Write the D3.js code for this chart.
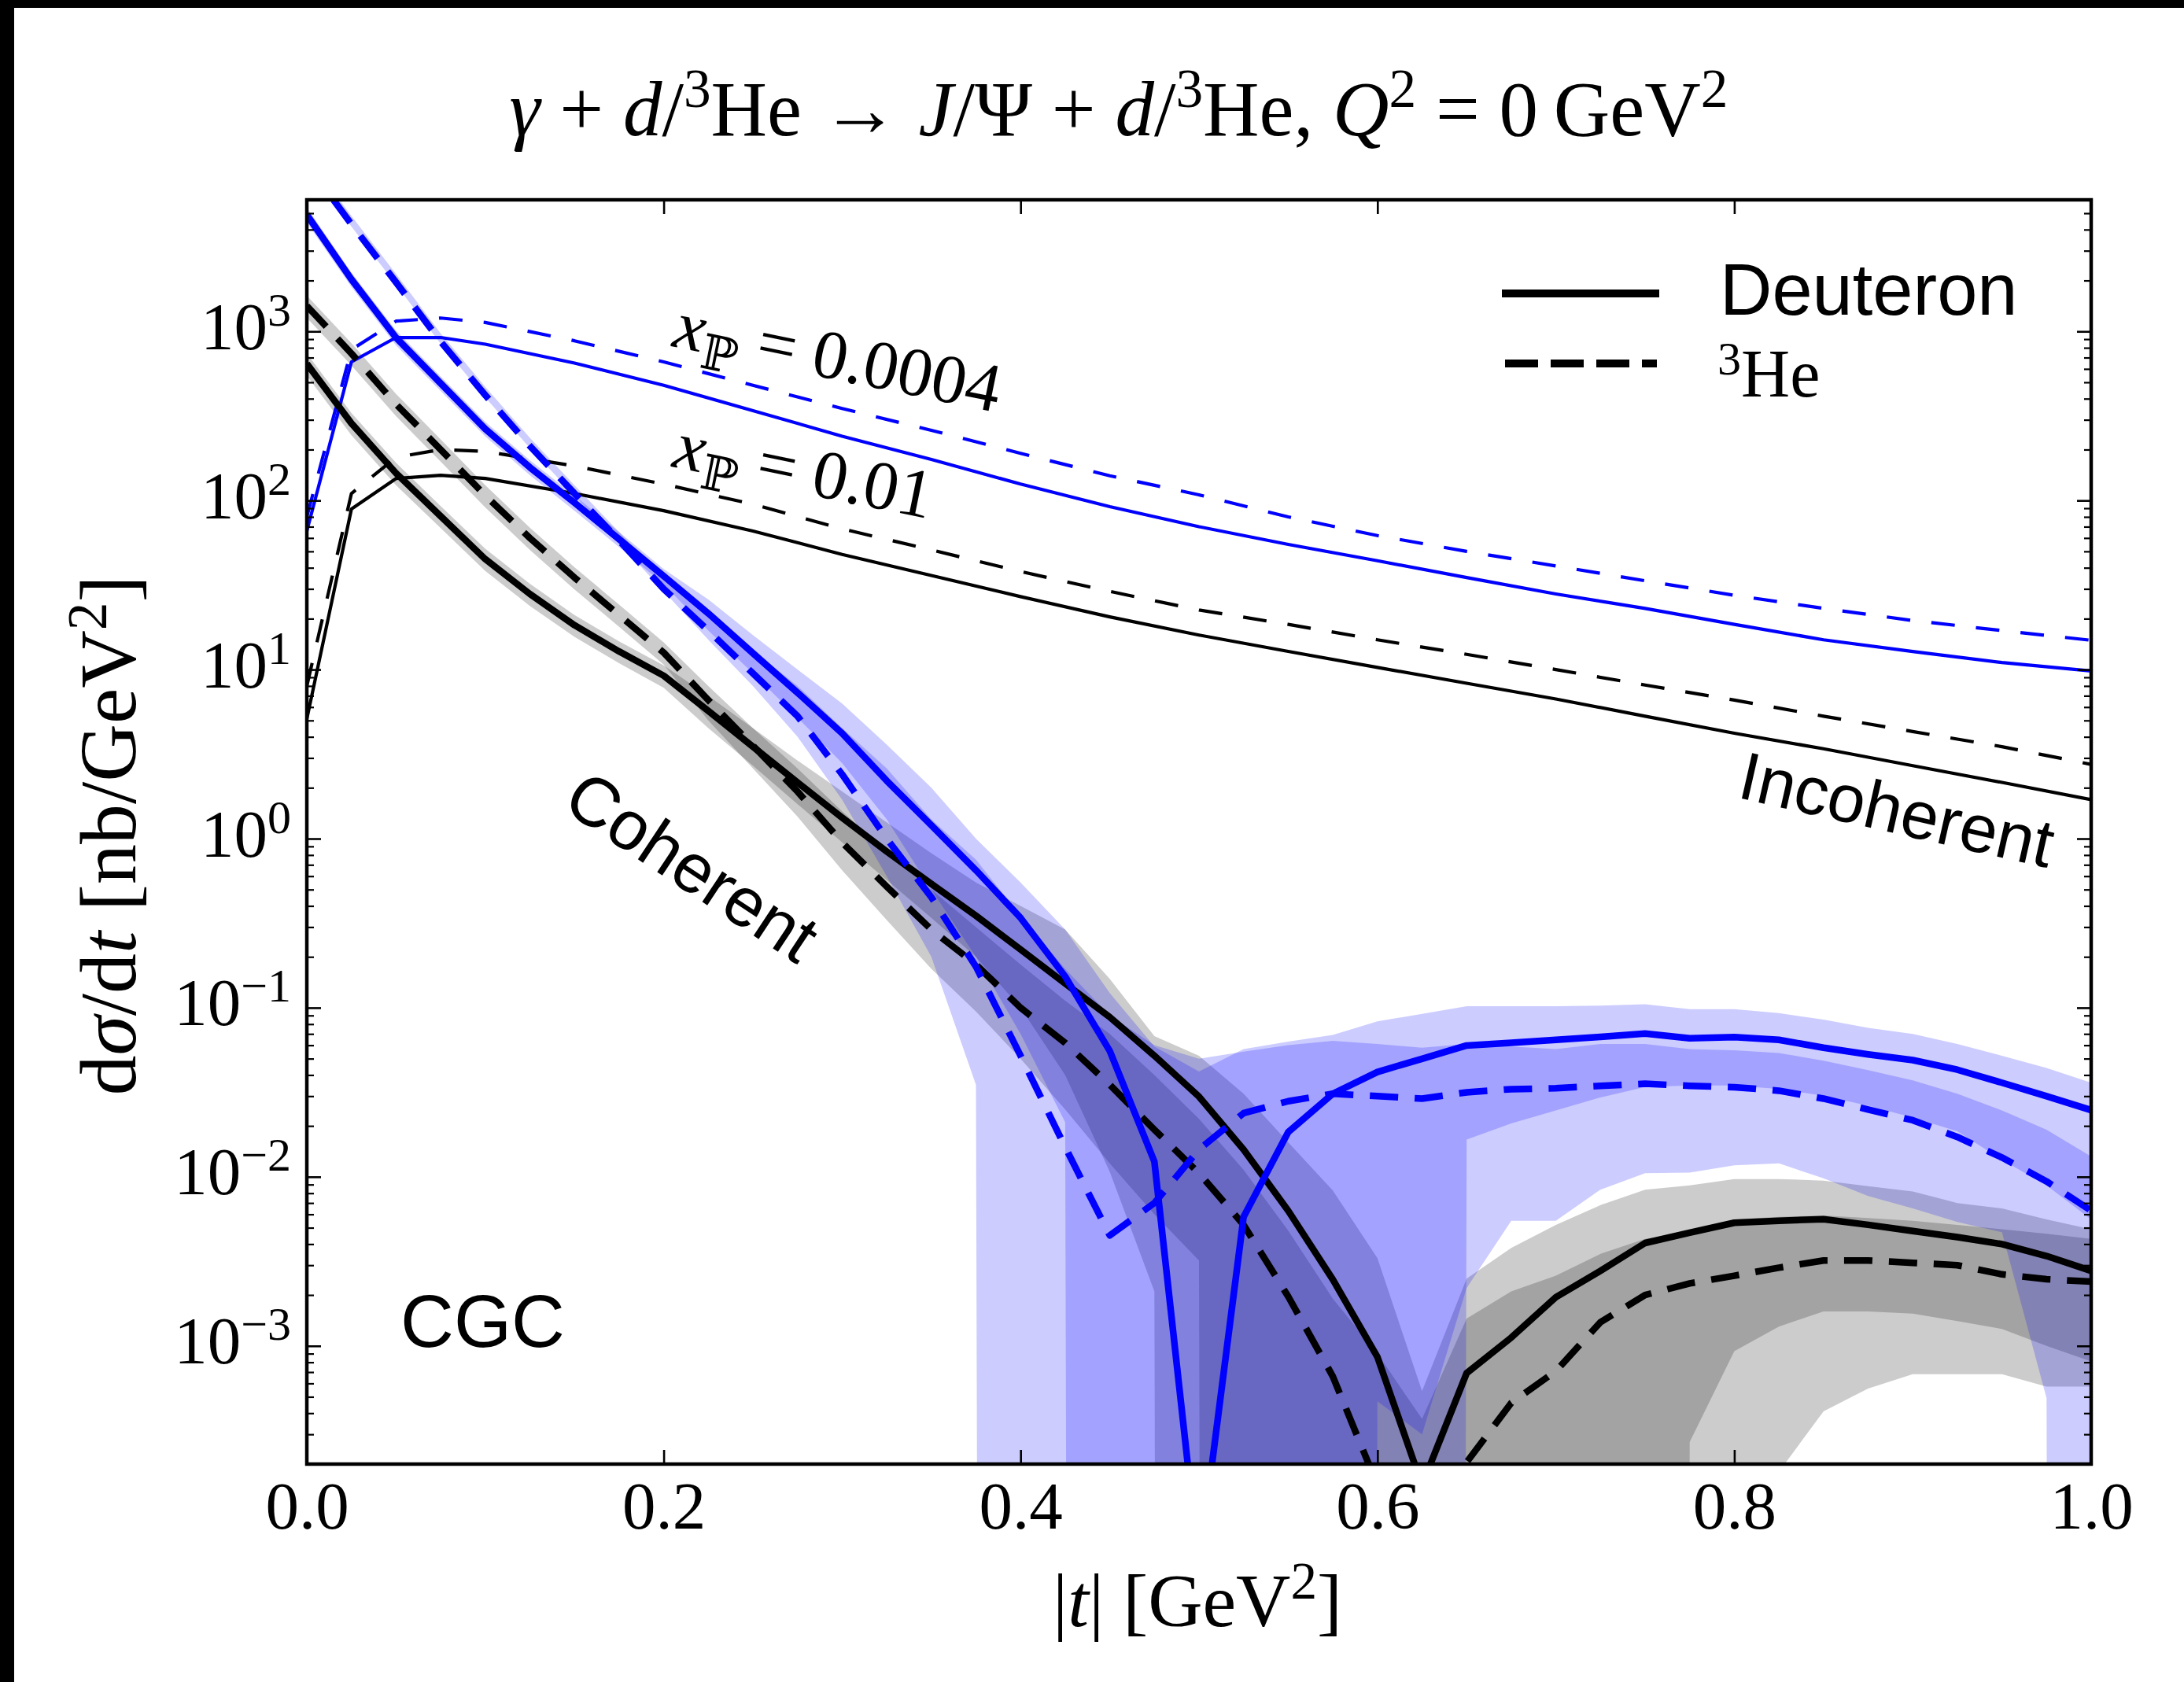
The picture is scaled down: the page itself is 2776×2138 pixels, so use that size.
<!DOCTYPE html>
<html>
<head>
<meta charset="utf-8">
<title>Coherent and incoherent J/Psi photoproduction off d and 3He</title>
<script src="https://cdn.jsdelivr.net/npm/d3@7"></script>
<style>
  html, body { margin: 0; padding: 0; background: #fff; }
  svg { display: block; }
  text { white-space: pre; }
</style>
</head>
<body>
<svg id="fig" width="2776" height="2138"></svg>
<script>
// ---------------- data ----------------
// |t| grid of the coherent calculation [GeV^2]
const tCoh = [0, 0.025, 0.05, 0.075, 0.1, 0.125, 0.15, 0.175, 0.2, 0.225, 0.25, 0.275, 0.3, 0.325, 0.35,
  0.375, 0.4, 0.425, 0.45, 0.475, 0.5, 0.525, 0.55, 0.575, 0.6, 0.625, 0.65, 0.675, 0.7, 0.725, 0.75,
  0.775, 0.8, 0.825, 0.85, 0.875, 0.9, 0.925, 0.95, 0.975, 1.0];
// |t| grid of the incoherent calculation [GeV^2]
const tInc = [0, 0.025, 0.05, 0.075, 0.1, 0.15, 0.2, 0.25, 0.3, 0.35, 0.4, 0.45, 0.5, 0.55, 0.6, 0.65,
  0.7, 0.75, 0.8, 0.85, 0.9, 0.95, 1.0];

// coherent dsigma/dt [nb/GeV^2], x_P = 0.0004 (blue)
const cohDeutLowX = [4900, 2030, 918, 493, 265, 157, 97, 59, 35.7, 21.5, 12.5, 7.3, 4.2, 2.2, 1.2, 0.65,
  0.34, 0.153, 0.0555, 0.0123, 0.00005, 0.0058, 0.0184, 0.031, 0.0417, 0.0499, 0.0598, 0.062, 0.0646,
  0.0673, 0.0703, 0.066, 0.067, 0.0646, 0.058, 0.053, 0.049, 0.043, 0.036, 0.030, 0.0248];
const cohHeLowX = [9800, 4300, 1950, 870, 420, 210, 110, 58, 30, 17, 9.5, 5.3, 2.4, 1.0, 0.45, 0.175,
  0.052, 0.015, 0.0045, 0.007, 0.0145, 0.0238, 0.028, 0.031, 0.030, 0.029, 0.0316, 0.033, 0.0334,
  0.0345, 0.0355, 0.0345, 0.0339, 0.0323, 0.029, 0.025, 0.0216, 0.0172, 0.013, 0.0094, 0.0063];
// coherent dsigma/dt [nb/GeV^2], x_P = 0.01 (black)
const cohDeutHighX = [644, 286, 145, 80.7, 45, 28, 18.3, 12.8, 9.2, 5.7, 3.5, 2.15, 1.33, 0.84, 0.54,
  0.35, 0.221, 0.139, 0.088, 0.052, 0.0298, 0.0145, 0.0063, 0.00247, 0.00086, 0.00015, 0.00069, 0.00112,
  0.00194, 0.00278, 0.00406, 0.00467, 0.00535, 0.0055, 0.00561, 0.0052, 0.00478, 0.0044, 0.0040,
  0.0034, 0.00278];
const cohHeHighX = [1415, 740, 371, 200, 107, 60, 35, 21, 12.6, 6.6, 3.55, 1.9, 0.95, 0.52, 0.29, 0.18,
  0.1, 0.062, 0.035, 0.019, 0.0105, 0.0052, 0.00196, 0.00066, 0.00015, 0.00003, 0.000205, 0.00046,
  0.00071, 0.00138, 0.002, 0.00234, 0.0026, 0.0029, 0.0032, 0.0032, 0.0031, 0.003, 0.00265, 0.00248,
  0.0024];

// uncertainty bands of the coherent cross sections (0 = lower edge not positive)
const bandDeutLowXHi = [5400, 2230, 1010, 542, 292, 173, 107, 65, 39.3, 26, 16, 10, 6.3, 3.6, 2.0, 1.0,
  0.55, 0.29, 0.122, 0.059, 0.042, 0.057, 0.063, 0.069, 0.083, 0.092, 0.102, 0.102, 0.102, 0.103, 0.105,
  0.098, 0.098, 0.093, 0.085, 0.076, 0.070, 0.061, 0.052, 0.044, 0.036];
const bandDeutLowXLo = [4410, 1830, 826, 444, 239, 141, 87, 53, 32, 17, 9.5, 5.2, 2.8, 1.3, 0.5, 0.2,
  0.07, 0.021, 0, 0, 0, 0, 0, 0, 0, 0, 0.0166, 0.0207, 0.0247, 0.0295, 0.034, 0.0347, 0.0347, 0.0331,
  0.0302, 0.0263, 0.0224, 0.0186, 0.0126, 0.0089, 0.0056];
const bandHeLowXHi = [10976, 4816, 2184, 974, 470, 235, 123, 65, 33.6, 21, 13, 8, 4.5, 2.6, 1.3, 0.75,
  0.35, 0.17, 0.09, 0.06, 0.05, 0.055, 0.06, 0.0637, 0.061, 0.058, 0.061, 0.059, 0.057, 0.061, 0.061,
  0.057, 0.056, 0.054, 0.0486, 0.0427, 0.0372, 0.031, 0.0247, 0.019, 0.0132];
const bandHeLowXLo = [9506, 4171, 1892, 844, 407, 204, 107, 56, 29.1, 15, 8, 4, 1.7, 0.6, 0.2, 0.035,
  0, 0, 0, 0, 0, 0, 0, 0, 0.00047, 0.0003, 0.0022, 0.0055, 0.0055, 0.0084, 0.0105, 0.0106, 0.0117,
  0.012, 0.0098, 0.0077, 0.0065, 0.0054, 0.0047, 0.00049, 0];
const bandDeutHighXHi = [741, 329, 167, 92.8, 51.8, 32.2, 21, 14.7, 10.6, 7, 4.5, 2.9, 1.9, 1.25, 0.82,
  0.55, 0.4, 0.29, 0.148, 0.068, 0.052, 0.031, 0.016, 0.0083, 0.0033, 0.00054, 0.0025, 0.0038, 0.0052,
  0.0068, 0.0084, 0.0089, 0.0097, 0.0097, 0.0095, 0.0088, 0.0082, 0.007, 0.0065, 0.0056, 0.0049];
const bandDeutHighXLo = [547, 243, 123, 68.6, 38.3, 23.8, 15.6, 10.9, 7.8, 4.5, 2.7, 1.6, 0.95, 0.57,
  0.34, 0.2, 0.1, 0.04, 0.0107, 0.0021, 0, 0, 0, 0, 0, 0, 0, 0, 0, 0, 0, 0.00027, 0.00093, 0.0013,
  0.0016, 0.0016, 0.00155, 0.0014, 0.00126, 0.001, 0.00081];
const bandHeHighXHi = [1627, 851, 427, 230, 123, 69, 40.3, 24.2, 14.5, 8, 4.5, 2.6, 1.45, 0.85, 0.5,
  0.3, 0.18, 0.11, 0.07, 0.04, 0.022, 0.011, 0.0048, 0.0019, 0.0009, 0.00037, 0.00145, 0.0021, 0.0026,
  0.0035, 0.0043, 0.0047, 0.0056, 0.0058, 0.0059, 0.0057, 0.0055, 0.0052, 0.0049, 0.0046, 0.0043];
const bandHeHighXLo = [1203, 629, 315, 170, 91, 51, 29.8, 17.9, 10.7, 5, 2.6, 1.35, 0.65, 0.33, 0.17,
  0.095, 0.05, 0.025, 0.012, 0.006, 0.0032, 0, 0, 0, 0, 0, 0, 0, 0, 0, 0, 0, 0, 0.00018, 0.00041,
  0.00056, 0.00068, 0.00068, 0.00068, 0.000575, 0.000575];

// incoherent dsigma/dt [nb/GeV^2]
const incDeutLowX = [66, 660, 920, 920, 840, 650, 480, 340, 240, 175, 125, 92, 70, 55, 44, 35, 28, 23,
  18.5, 15, 12.8, 11, 9.8];
const incHeLowX = [80, 780, 1150, 1200, 1130, 880, 660, 480, 350, 260, 190, 140, 108, 80, 62, 50, 41,
  33.5, 27.5, 23, 19.5, 17, 14.9];
const incDeutHighX = [5.1, 89, 135, 141, 135, 110, 87, 66, 48, 36, 27, 20.5, 16, 12.8, 10.3, 8.3, 6.7,
  5.3, 4.2, 3.4, 2.7, 2.15, 1.7];
const incHeHighX = [8, 110, 180, 200, 195, 160, 125, 95, 68, 51, 38, 29, 22.5, 18.5, 15, 12.3, 10, 8.1,
  6.6, 5.3, 4.3, 3.5, 2.75];

// axes
const tDomain = [0, 1];
const yDomain = [2e-4, 6e3];
const xTickValues = [0, 0.2, 0.4, 0.6, 0.8, 1.0];
const yMajorTicks = [1e-3, 1e-2, 1e-1, 1, 10, 100, 1000];

// ---------------- drawing ----------------
const SERIF = '"Liberation Serif", "DejaVu Serif", serif';
const SANS = '"Liberation Sans", Arial, "DejaVu Sans", sans-serif';
const W = 2776, H = 2138;
const box = { left: 390, right: 2658, top: 254, bottom: 1861 };

const svg = d3.select("#fig");
svg.append("rect").attr("width", W).attr("height", H).attr("fill", "#fff");
svg.append("rect").attr("x", 0).attr("y", 0).attr("width", W).attr("height", 10).attr("fill", "#000");
svg.append("rect").attr("x", 0).attr("y", 0).attr("width", 18).attr("height", H).attr("fill", "#000");

const x = d3.scaleLinear().domain(tDomain).range([box.left, box.right]);
const y = d3.scaleLog().domain(yDomain).range([box.bottom, box.top]);

svg.append("defs").append("clipPath").attr("id", "plotArea")
  .append("rect").attr("x", box.left).attr("y", box.top)
  .attr("width", box.right - box.left).attr("height", box.bottom - box.top);

const g = svg.append("g").attr("clip-path", "url(#plotArea)");

// non-positive band edges run off the bottom of the log axis
const pos = v => (v > 0 ? v : 1e-100);
const area = d3.area().x(d => x(d.t)).y0(d => y(pos(d.lo))).y1(d => y(pos(d.hi)));
const zipBand = (lo, hi) => tCoh.map((t, i) => ({ t, lo: lo[i], hi: hi[i] }));

const bands = [
  { lo: bandDeutHighXLo, hi: bandDeutHighXHi, color: "#000000" },
  { lo: bandHeHighXLo, hi: bandHeHighXHi, color: "#000000" },
  { lo: bandDeutLowXLo, hi: bandDeutLowXHi, color: "#0000ff" },
  { lo: bandHeLowXLo, hi: bandHeLowXHi, color: "#0000ff" }
];
bands.forEach(b => {
  g.append("path").attr("d", area(zipBand(b.lo, b.hi)))
    .attr("fill", b.color).attr("fill-opacity", 0.2).attr("stroke", "none");
});

const line = d3.line().x(d => x(d.t)).y(d => y(d.v));
const zip = (ts, vs) => ts.map((t, i) => ({ t, v: vs[i] }));

const curves = [
  { t: tInc, v: incDeutHighX, color: "#000", w: 4.2, dash: null },
  { t: tInc, v: incHeHighX, color: "#000", w: 4.2, dash: "30,27" },
  { t: tInc, v: incDeutLowX, color: "#0000ff", w: 4.2, dash: null },
  { t: tInc, v: incHeLowX, color: "#0000ff", w: 4.2, dash: "30,27" },
  { t: tCoh, v: cohDeutHighX, color: "#000", w: 8.5, dash: null },
  { t: tCoh, v: cohHeHighX, color: "#000", w: 8.5, dash: "36,21" },
  { t: tCoh, v: cohDeutLowX, color: "#0000ff", w: 8.5, dash: null },
  { t: tCoh, v: cohHeLowX, color: "#0000ff", w: 8.5, dash: "36,21" }
];
curves.forEach(c => {
  g.append("path").attr("d", line(zip(c.t, c.v)))
    .attr("fill", "none").attr("stroke", c.color).attr("stroke-width", c.w)
    .attr("stroke-dasharray", c.dash).attr("stroke-linejoin", "round");
});

// ---------------- axes ----------------
const allLogTicks = y.ticks();
const yMinorTicks = allLogTicks.filter(v => !yMajorTicks.some(m => Math.abs(m - v) / m < 1e-6));

function styleTicks(sel, w) {
  sel.select(".domain").remove();
  sel.selectAll(".tick line").attr("stroke", "#000").attr("stroke-width", w);
}

const gx = svg.append("g").attr("transform", `translate(0,${box.bottom})`)
  .call(d3.axisBottom(x).tickValues(xTickValues).tickSize(-18).tickFormat(d3.format(".1f")));
styleTicks(gx, 2.6);
gx.selectAll(".tick text").attr("y", 82).attr("dy", null)
  .attr("font-family", SERIF).attr("font-size", 85).attr("fill", "#000");

const gxTop = svg.append("g").attr("transform", `translate(0,${box.top})`)
  .call(d3.axisTop(x).tickValues(xTickValues).tickSize(-18).tickFormat(""));
styleTicks(gxTop, 2.6);

const gy = svg.append("g").attr("transform", `translate(${box.left},0)`)
  .call(d3.axisLeft(y).tickValues(yMajorTicks).tickSize(-18).tickPadding(20));
styleTicks(gy, 2.6);
gy.selectAll(".tick text").each(function (d) {
  const p = Math.round(Math.log10(d));
  const t = d3.select(this).text(null).attr("dy", null).attr("y", 22)
    .attr("font-family", SERIF).attr("font-size", 85).attr("fill", "#000");
  t.append("tspan").text("10");
  t.append("tspan").attr("dy", -30).attr("font-size", 60).text(p < 0 ? "\u2212" + (-p) : String(p));
});
const gyMinor = svg.append("g").attr("transform", `translate(${box.left},0)`)
  .call(d3.axisLeft(y).tickValues(yMinorTicks).tickSize(-9).tickFormat(""));
styleTicks(gyMinor, 2.2);

const gyR = svg.append("g").attr("transform", `translate(${box.right},0)`)
  .call(d3.axisRight(y).tickValues(yMajorTicks).tickSize(-18).tickFormat(""));
styleTicks(gyR, 2.6);
const gyRMinor = svg.append("g").attr("transform", `translate(${box.right},0)`)
  .call(d3.axisRight(y).tickValues(yMinorTicks).tickSize(-9).tickFormat(""));
styleTicks(gyRMinor, 2.2);

svg.append("rect").attr("x", box.left).attr("y", box.top)
  .attr("width", box.right - box.left).attr("height", box.bottom - box.top)
  .attr("fill", "none").attr("stroke", "#000").attr("stroke-width", 4.5);

// ---------------- text ----------------
function rich(textSel, parts, fs, rise) {
  const up = rise === undefined ? 0.36 : rise;
  let cur = 0;
  parts.forEach(p => {
    const shift = p.sup ? -up * fs : (p.sub ? 0.22 * fs : 0);
    const ts = textSel.append("tspan").text(p.s).attr("dy", shift - cur);
    cur = shift;
    if (p.sup || p.sub) ts.attr("font-size", 0.7 * fs);
    if (p.it) ts.attr("font-style", "italic");
  });
  return textSel;
}

function serifText(xp, yp, fs, anchor) {
  return svg.append("text").attr("x", xp).attr("y", yp).attr("font-family", SERIF)
    .attr("font-size", fs).attr("text-anchor", anchor).attr("fill", "#000");
}

// title
rich(serifText(1422, 172, 99, "middle"), [
  { s: "\u03b3", it: true }, { s: " + " }, { s: "d", it: true }, { s: "/" }, { s: "3", sup: true },
  { s: "He \u2192 " }, { s: "J", it: true }, { s: "/\u03a8 + " }, { s: "d", it: true }, { s: "/" },
  { s: "3", sup: true }, { s: "He, " }, { s: "Q", it: true }, { s: "2", sup: true },
  { s: " = 0\u2009GeV" }, { s: "2", sup: true }
], 99);

// x label
rich(serifText(1522, 2067, 96, "middle"), [
  { s: "|" }, { s: "t", it: true }, { s: "| [GeV" }, { s: "2", sup: true }, { s: "]" }
], 96);

// y label
rich(serifText(0, 0, 102, "middle").attr("transform", "translate(172,1062) rotate(-90)"), [
  { s: "d" }, { s: "\u03c3", it: true }, { s: "/d" }, { s: "t", it: true }, { s: " [nb/GeV" },
  { s: "2", sup: true }, { s: "]" }
], 102);

// legend
svg.append("line").attr("x1", 1909).attr("x2", 2109).attr("y1", 373).attr("y2", 373)
  .attr("stroke", "#000").attr("stroke-width", 10);
svg.append("line").attr("x1", 1913).attr("x2", 2106).attr("y1", 462).attr("y2", 462)
  .attr("stroke", "#000").attr("stroke-width", 10).attr("stroke-dasharray", "42,16");
svg.append("text").attr("x", 2186).attr("y", 400).attr("font-family", SANS).attr("font-size", 92)
  .attr("fill", "#000").text("Deuteron");
rich(serifText(2183, 504, 86, "start"), [{ s: "3", sup: true }, { s: "He" }], 86, 0.33);

// x_P annotations
rich(serifText(0, 0, 88, "start").attr("transform", "translate(853,440) rotate(11.5)"), [
  { s: "x", it: true }, { s: "\u2119", sub: true }, { s: " = 0.0004" }
], 88);
rich(serifText(0, 0, 88, "start").attr("transform", "translate(853,593) rotate(11.5)"), [
  { s: "x", it: true }, { s: "\u2119", sub: true }, { s: " = 0.01" }
], 88);

// region labels
svg.append("text").attr("transform", "translate(880,1101) rotate(33.5)").attr("text-anchor", "middle")
  .attr("dy", "0.35em").attr("font-family", SANS).attr("font-size", 88).attr("fill", "#000").text("Coherent");
svg.append("text").attr("transform", "translate(2411,1029) rotate(12.8)").attr("text-anchor", "middle")
  .attr("dy", "0.35em").attr("font-family", SANS).attr("font-size", 86).attr("fill", "#000").text("Incoherent");
svg.append("text").attr("x", 509).attr("y", 1712).attr("font-family", SANS).attr("font-size", 94)
  .attr("fill", "#000").text("CGC");
</script>
</body>
</html>
